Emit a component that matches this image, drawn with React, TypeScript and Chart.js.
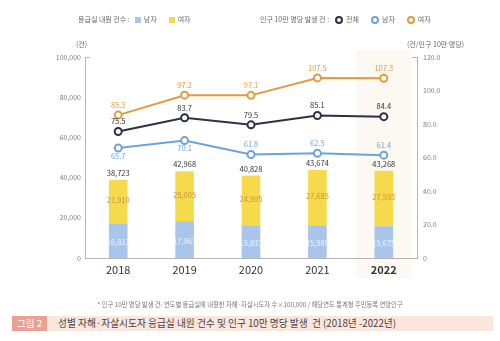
import React, { useEffect, useRef } from "react";
import { Chart, registerables } from "chart.js";
Chart.register(...registerables);

const years = ["2018", "2019", "2020", "2021", "2022"];
const visitsMale = [16813, 17963, 15833, 15989, 15675];
const visitsFemale = [21910, 25005, 24995, 27685, 27593];
const visitsTotal = [38723, 42968, 40828, 43674, 43268];
const rateTotal = [75.5, 83.7, 79.5, 85.1, 84.4];
const rateMale = [65.7, 70.1, 61.8, 62.5, 61.4];
const rateFemale = [85.3, 97.2, 97.1, 107.5, 107.3];
const maleLabelBelow = [true, true, false, false, false];

const FONT = "'Noto Sans CJK KR', 'Noto Sans', sans-serif";
const C_BAR_M = "#a9c5ec";
const C_BAR_F = "#f5db4b";
const C_TOTAL = "#2e3045";
const C_MALE = "#6ea3d9";
const C_FEMALE = "#e19b3c";

const fmt = (v: number) => v.toLocaleString("en-US");

const overlayPlugin = {
  id: "overlay",
  beforeDraw(chart: any) {
    const { ctx, chartArea, scales } = chart;
    const cx = scales.x.getPixelForValue(4);
    ctx.save();
    ctx.fillStyle = "#fcf9f3";
    ctx.fillRect(cx - 28, chartArea.top - 7, 56, chartArea.bottom - chartArea.top + 27);
    ctx.restore();
  },
  afterDraw(chart: any) {
    const { ctx, chartArea, scales } = chart;
    ctx.save();
    ctx.strokeStyle = "#b5b5b5";
    ctx.lineWidth = 1;
    ctx.beginPath();
    ctx.moveTo(chartArea.left, chartArea.top + 0.5);
    ctx.lineTo(chartArea.left + 5, chartArea.top + 0.5);
    ctx.moveTo(chartArea.right, chartArea.top + 0.5);
    ctx.lineTo(chartArea.right - 5, chartArea.top + 0.5);
    ctx.stroke();

    ctx.textAlign = "center";
    ctx.textBaseline = "middle";
    ctx.font = `7.5px ${FONT}`;
    const y = scales.y;
    const y1 = scales.y1;
    const x = scales.x;
    years.forEach((_, i) => {
      const px = x.getPixelForValue(i);
      const yTop = y.getPixelForValue(visitsTotal[i]);
      const yMid = y.getPixelForValue(visitsMale[i]);
      const y0 = y.getPixelForValue(0);
      ctx.fillStyle = "#333333";
      ctx.fillText(fmt(visitsTotal[i]), px, yTop - 7);
      ctx.fillStyle = "#c8913f";
      ctx.fillText(fmt(visitsFemale[i]), px, (yTop + yMid) / 2 - 2);
      ctx.fillStyle = "#f2f7ff";
      ctx.fillText(fmt(visitsMale[i]), px, (yMid + y0) / 2 + 1);

      ctx.fillStyle = C_FEMALE;
      ctx.fillText(rateFemale[i].toFixed(1), px, y1.getPixelForValue(rateFemale[i]) - 10);
      ctx.fillStyle = "#333333";
      ctx.fillText(rateTotal[i].toFixed(1), px, y1.getPixelForValue(rateTotal[i]) - 10);
      ctx.fillStyle = C_MALE;
      const my = y1.getPixelForValue(rateMale[i]);
      ctx.fillText(rateMale[i].toFixed(1), px, maleLabelBelow[i] ? my + 8 : my - 10);
    });
    ctx.restore();
  },
};

export default function App() {
  const ref = useRef<HTMLCanvasElement | null>(null);
  useEffect(() => {
    document.body.style.margin = "0";
    if (!ref.current) return;
    const lineDs = (label: string, data: number[], color: string) => ({
      type: "line" as const,
      label,
      data,
      yAxisID: "y1",
      borderColor: color,
      backgroundColor: "#ffffff",
      pointBackgroundColor: "#ffffff",
      pointBorderColor: color,
      pointBorderWidth: 2,
      pointRadius: 3.5,
      borderWidth: 2,
      tension: 0,
      order: 0,
    });
    const chart = new Chart(ref.current, {
      type: "bar",
      data: {
        labels: years,
        datasets: [
          { type: "bar", label: "남자", data: visitsMale, backgroundColor: C_BAR_M, barThickness: 18, yAxisID: "y", order: 1 },
          { type: "bar", label: "여자", data: visitsFemale, backgroundColor: C_BAR_F, barThickness: 18, yAxisID: "y", order: 1 },
          lineDs("여자", rateFemale, C_FEMALE),
          lineDs("전체", rateTotal, C_TOTAL),
          lineDs("남자", rateMale, C_MALE),
        ] as any,
      },
      options: {
        responsive: false,
        animation: false,
        layout: { padding: { top: 57, left: 0, right: 0, bottom: 0 } },
        plugins: { legend: { display: false }, tooltip: { enabled: false } },
        scales: {
          x: {
            stacked: true,
            offset: true,
            grid: { display: false, drawTicks: false },
            border: { display: true, color: "#b5b5b5" },
            ticks: {
              padding: 5,
              color: "#333333",
              font: (c: any) => ({ family: FONT, size: 11, weight: c.index === 4 ? "bold" : "normal" }),
            },
            afterFit: (s: any) => { s.height = 83; },
          },
          y: {
            stacked: true,
            position: "left",
            min: 0,
            max: 100000,
            grid: { display: false, drawTicks: false },
            border: { display: true, color: "#b5b5b5" },
            ticks: {
              stepSize: 20000,
              padding: 4,
              color: "#808080",
              font: { family: FONT, size: 7 },
              callback: (v: any) => fmt(Number(v)),
            },
            afterFit: (s: any) => { s.width = 85; },
          },
          y1: {
            stacked: false,
            position: "right",
            min: 0,
            max: 120,
            grid: { display: false, drawTicks: false },
            border: { display: true, color: "#b5b5b5" },
            ticks: {
              stepSize: 20,
              padding: 6,
              color: "#808080",
              font: { family: FONT, size: 7 },
              callback: (v: any) => (Number(v) === 0 ? "0" : Number(v).toFixed(1)),
            },
            afterFit: (s: any) => { s.width = 83; },
          },
        },
      },
      plugins: [overlayPlugin],
    });
    return () => chart.destroy();
  }, []);

  const txt: React.CSSProperties = { position: "absolute", fontFamily: FONT, whiteSpace: "nowrap", lineHeight: 1 };
  const sq = (c: string): React.CSSProperties => ({ display: "inline-block", width: 6, height: 6, background: c, margin: "0 3px 0 5px", verticalAlign: "middle" });
  const ring = (c: string): React.CSSProperties => ({ display: "inline-block", width: 4, height: 4, border: `2px solid ${c}`, borderRadius: "50%", background: "#fff", margin: "0 3px 0 6px", verticalAlign: "middle" });

  return (
    <div style={{ position: "relative", width: 500, height: 341, background: "#ffffff", overflow: "hidden" }}>
      <canvas ref={ref} width={500} height={341} style={{ position: "absolute", left: 0, top: 0, display: "block" }} />
      <div style={{ ...txt, left: 78, top: 16, fontSize: 7, color: "#666" }}>
        응급실 내원 건수 :<span style={sq(C_BAR_M)} />남자<span style={{ ...sq(C_BAR_F), marginLeft: 12 }} />여자
      </div>
      <div style={{ ...txt, left: 260, top: 16, fontSize: 7, color: "#666" }}>
        인구 10만 명당 발생 건 :<span style={ring(C_TOTAL)} />전체<span style={{ ...ring(C_MALE), marginLeft: 12 }} />남자<span style={{ ...ring(C_FEMALE), marginLeft: 12 }} />여자
      </div>
      <div style={{ ...txt, left: 76, top: 41, fontSize: 7, color: "#666" }}>(건)</div>
      <div style={{ ...txt, left: 407, top: 41, fontSize: 7, color: "#666" }}>(건/인구 10만 명당)</div>
      <div style={{ ...txt, left: 0, width: 500, textAlign: "center", top: 302, fontSize: 6.3, color: "#777" }}>
        * 인구 10만 명당 발생 건: 연도별 응급실에 내원한 자해·자살시도자 수×100,000 / 해당연도 통계청 주민등록 연앙인구
      </div>
      <div style={{ position: "absolute", left: 12, top: 316, width: 481, height: 15, background: "#fbe6dd" }} />
      <div style={{ position: "absolute", left: 12, top: 316, width: 35, height: 15, background: "#e9a193" }} />
      <div style={{ ...txt, left: 12, width: 35, textAlign: "center", top: 319, fontSize: 9.5, color: "#ffffff" }}>그림 2</div>
      <div style={{ ...txt, left: 58, top: 318.5, fontSize: 9.7, color: "#444" }}>
        성별 자해·자살시도자 응급실 내원 건수 및 인구 10만 명당 발생&nbsp; 건 (2018년 -2022년)
      </div>
    </div>
  );
}
